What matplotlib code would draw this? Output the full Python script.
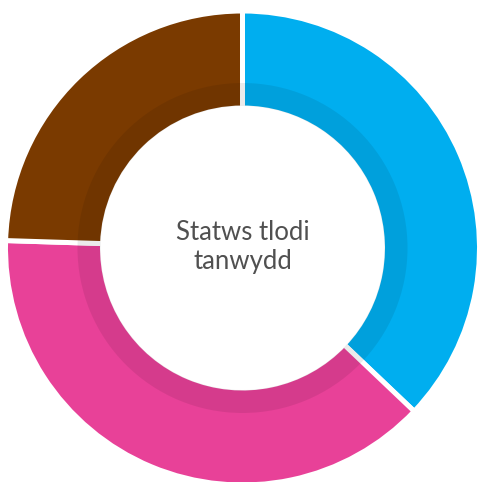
import matplotlib.pyplot as plt
from matplotlib.patches import Wedge

# share of households per category
labels = ['Blue', 'Pink', 'Brown']
values = [37.1, 38.4, 24.5]
colors = ['#00AEEF', '#E84198', '#7A3A00']
centre_text = 'Statws tlodi\ntanwydd'

fig = plt.figure(figsize=(4.78, 4.82), dpi=100)
ax = fig.add_axes([0, 0, 1, 1])

cx, cy = 242.5, 482 - 248
r_out = 237
ax.pie(values, colors=colors, startangle=90, counterclock=False,
       radius=r_out, center=(cx, cy),
       wedgeprops=dict(width=r_out - 140, edgecolor='white', linewidth=3.6))

# darker inner band
ax.add_patch(Wedge((cx, cy), 165, 0, 360, width=23, facecolor='black',
                   alpha=0.08, edgecolor='none'))

ax.text(cx, cy + 1, centre_text, ha='center', va='center', fontsize=18.5,
        color='#505050', family='Lato', linespacing=1.25)

ax.set_xlim(0, 478)
ax.set_ylim(0, 482)
ax.set_aspect('equal')
ax.axis('off')
fig.savefig('out.png', dpi=100)
